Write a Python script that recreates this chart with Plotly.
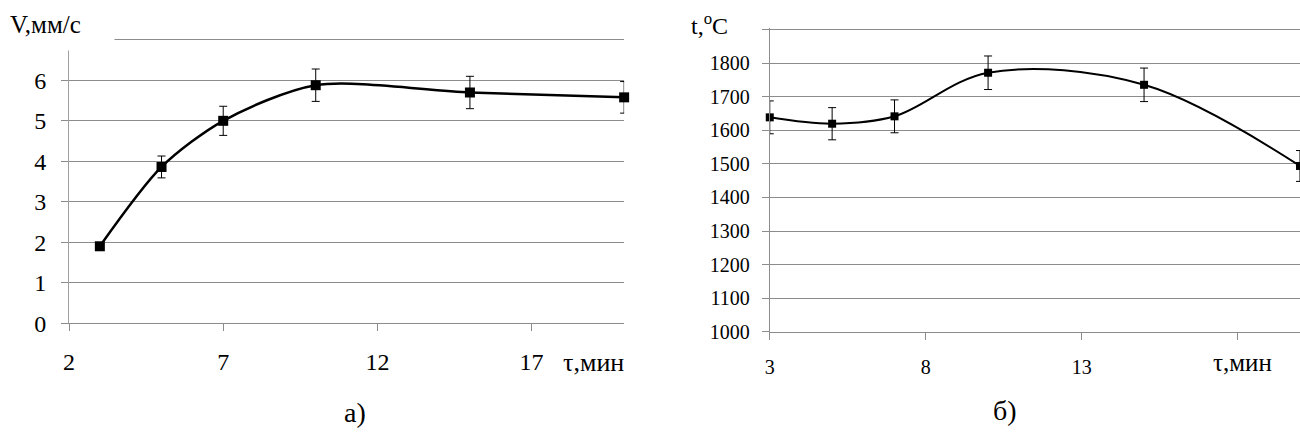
import plotly.graph_objects as go

# ---- data: chart а) speed vs time ----
tau_a = [3, 5, 7, 10, 15, 20]
v_a = [1.9, 3.86, 5.0, 5.88, 5.70, 5.58]
err_a = [0.08, 0.27, 0.36, 0.40, 0.40, 0.39]
y_ticks_a = [0, 1, 2, 3, 4, 5, 6]
y_top_a = [7]
x_ticks_a = [2, 7, 12, 17]

# ---- data: chart б) temperature vs time ----
tau_b = [3, 5, 7, 10, 15, 20]
t_b = [1639, 1620, 1642, 1772, 1736, 1494]
err_b = [49, 48, 49, 50, 50, 46]
y_ticks_b = [1000, 1100, 1200, 1300, 1400, 1500, 1600, 1700, 1800]
y_top_b = [1900]
x_ticks_b = [3, 8, 13]
x_hidden_b = [18]

W, H = 1300, 441
FONT = "Liberation Serif, Tinos, Times New Roman, DejaVu Serif, serif"
GRID = "#8c8c8c"


def px(x):
    return x / W


def py(y):
    return 1 - y / H


fig = go.Figure()

fig.add_trace(go.Scatter(
    x=tau_a, y=v_a, mode="lines+markers",
    line=dict(color="black", width=2.5, shape="spline", smoothing=0.8),
    marker=dict(symbol="square", size=10, color="black"),
    error_y=dict(type="data", array=err_a, color="black", thickness=1, width=4),
    cliponaxis=False, showlegend=False, xaxis="x", yaxis="y",
))

fig.add_trace(go.Scatter(
    x=tau_b, y=t_b, mode="lines+markers",
    line=dict(color="black", width=2, shape="spline", smoothing=1),
    marker=dict(symbol="square", size=8, color="black"),
    error_y=dict(type="data", array=err_b, color="black", thickness=1, width=4),
    cliponaxis=False, showlegend=False, xaxis="x2", yaxis="y2",
))

tickfont_a = dict(family=FONT, size=24, color="black")
tickfont_b = dict(family=FONT, size=20, color="black")

fig.update_layout(
    width=W, height=H,
    margin=dict(l=0, r=0, t=0, b=0),
    paper_bgcolor="white", plot_bgcolor="white",
    xaxis=dict(
        domain=[px(63.3), px(621)], range=[2, 20],
        tickvals=x_ticks_a, tickfont=tickfont_a,
        showgrid=False, zeroline=False,
        showline=True, linecolor=GRID, linewidth=1,
        ticks="outside", ticklen=7, tickcolor=GRID, tickwidth=1,
        ticklabelstandoff=10,
    ),
    yaxis=dict(
        domain=[py(333), py(39)], range=[0, 7.05],
        tickvals=y_ticks_a, tickfont=tickfont_a,
        showgrid=True, gridcolor=GRID, gridwidth=1, zeroline=False,
        showline=True, linecolor="#a0a0a0", linewidth=1,
        ticks="outside", ticklen=7, tickcolor=GRID, tickwidth=1,
        ticklabelstandoff=10,
        minor=dict(tickvals=y_top_a, showgrid=True, gridcolor=GRID, gridwidth=1,
                   ticks="outside", ticklen=7, tickcolor=GRID),
    ),
    xaxis2=dict(
        domain=[px(767.3), 1.0], range=[3, 20],
        tickvals=x_ticks_b, tickfont=tickfont_b,
        showgrid=False, zeroline=False,
        showline=True, linecolor=GRID, linewidth=1,
        ticks="outside", ticklen=7, tickcolor=GRID, tickwidth=1,
        ticklabelstandoff=10, anchor="y2",
        minor=dict(tickvals=x_hidden_b, showgrid=False,
                   ticks="outside", ticklen=7, tickcolor=GRID),
    ),
    yaxis2=dict(
        domain=[py(341.7), py(29)], range=[1000, 1905],
        tickvals=y_ticks_b, tickfont=tickfont_b,
        showgrid=True, gridcolor=GRID, gridwidth=1, zeroline=False,
        showline=True, linecolor=GRID, linewidth=1,
        ticks="outside", ticklen=7, tickcolor=GRID, tickwidth=1,
        ticklabelstandoff=8, anchor="x2",
        minor=dict(tickvals=y_top_b, showgrid=True, gridcolor=GRID, gridwidth=1,
                   ticks="outside", ticklen=7, tickcolor=GRID),
    ),
    shapes=[
        dict(type="rect", xref="paper", yref="paper",
             x0=0, x1=px(109), y0=py(52), y1=1,
             fillcolor="white", line=dict(width=0), layer="above"),
    ],
    annotations=[
        dict(text="V,мм/с", xref="paper", yref="paper", x=px(2), y=py(25),
             xanchor="left", yanchor="middle", showarrow=False,
             font=dict(family=FONT, size=25, color="black")),
        dict(text="τ,мин", xref="paper", yref="paper", x=px(558), y=py(373),
             xanchor="left", yanchor="middle", showarrow=False, bgcolor="white",
             font=dict(family=FONT, size=26, color="black")),
        dict(text="а)", xref="paper", yref="paper", x=px(351), y=py(425),
             xanchor="center", yanchor="middle", showarrow=False,
             font=dict(family=FONT, size=28, color="black")),
        dict(text="t,<sup>o</sup>C", xref="paper", yref="paper", x=px(686), y=py(25),
             xanchor="left", yanchor="middle", showarrow=False,
             font=dict(family=FONT, size=24, color="black")),
        dict(text="τ,мин", xref="paper", yref="paper", x=px(1211), y=py(374),
             xanchor="left", yanchor="middle", showarrow=False, bgcolor="white",
             font=dict(family=FONT, size=25, color="black")),
        dict(text="б)", xref="paper", yref="paper", x=px(1004), y=py(423),
             xanchor="center", yanchor="middle", showarrow=False,
             font=dict(family=FONT, size=28, color="black")),
    ],
)

fig.write_html(
    "out.html",
    config={"displayModeBar": False},
    post_script="document.body.style.margin='0';document.body.style.overflow='hidden';",
)
